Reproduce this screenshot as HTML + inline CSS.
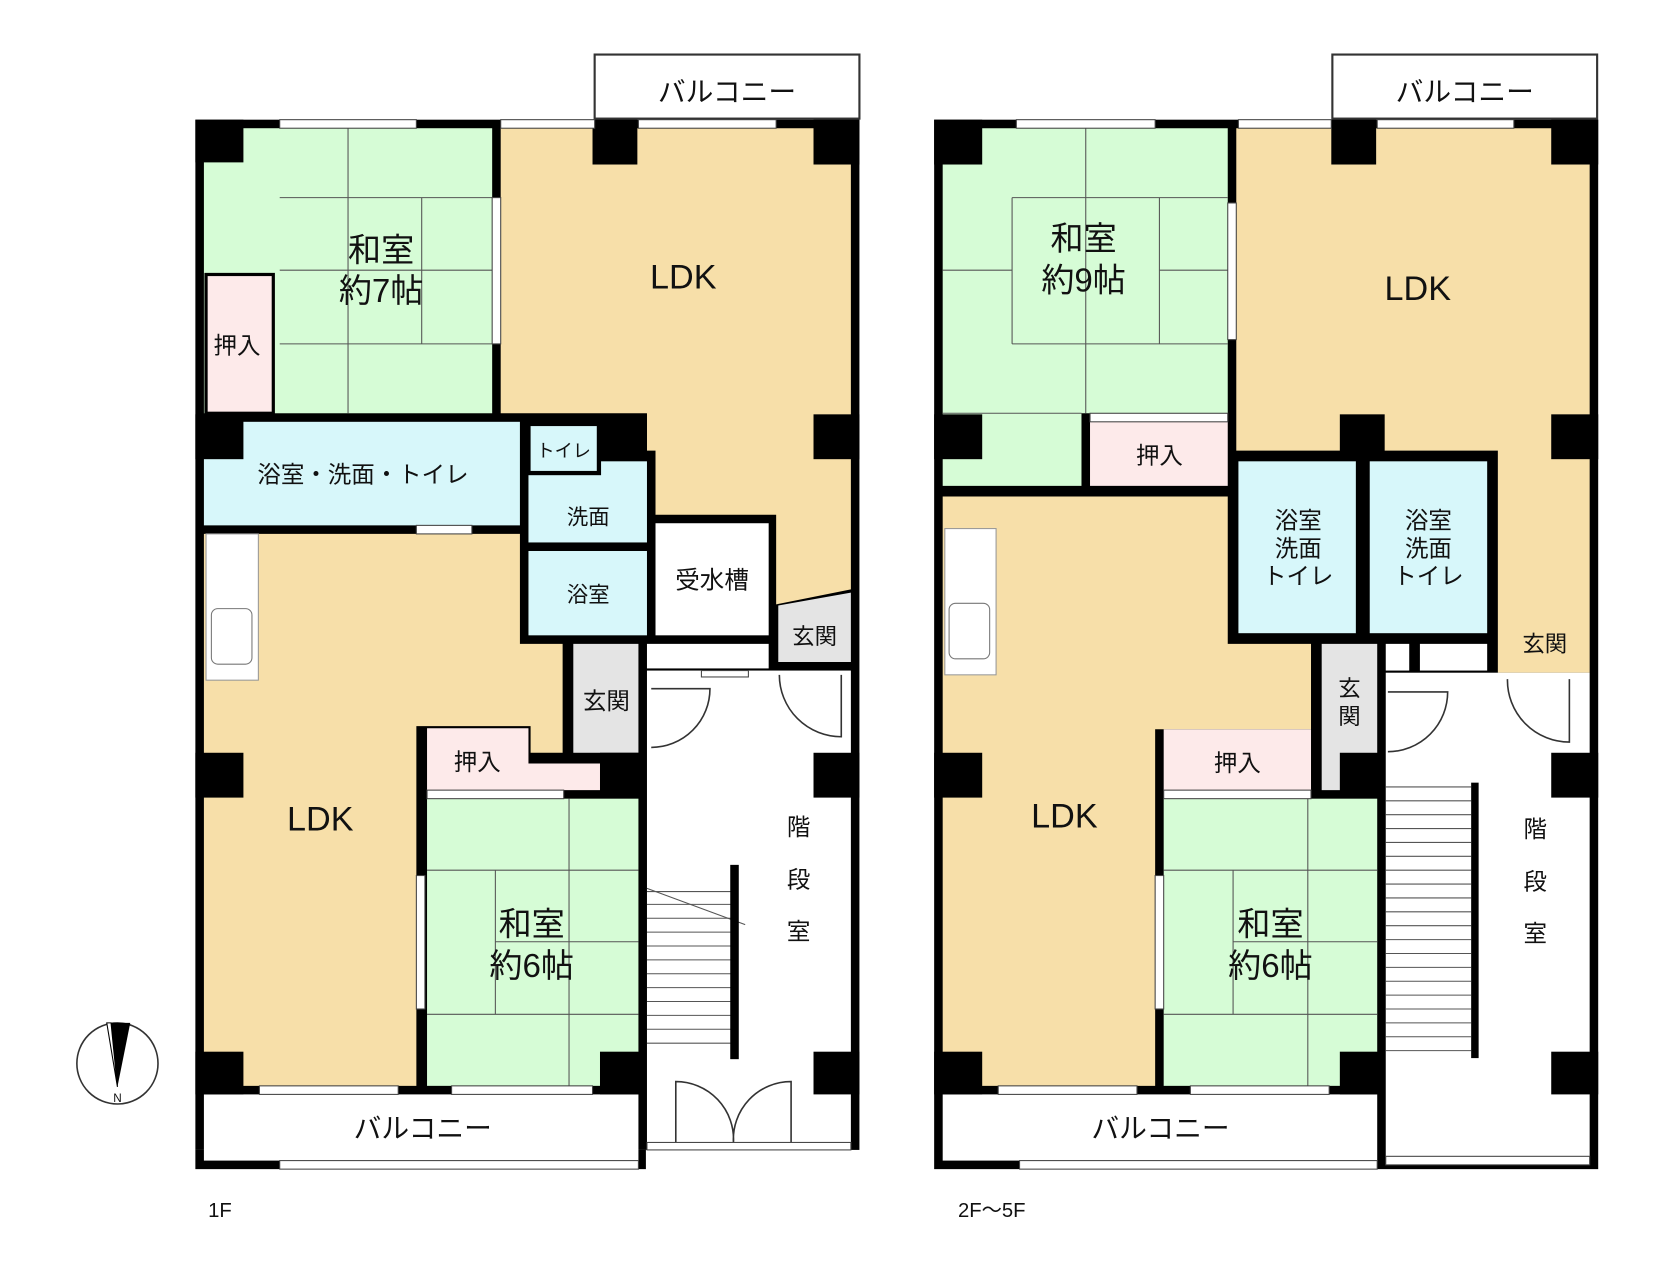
<!DOCTYPE html>
<html><head><meta charset="utf-8"><style>
html,body{margin:0;padding:0;background:#fff;}
svg{display:block}
text{font-family:"Liberation Sans","Noto Sans CJK JP",sans-serif;fill:#111;text-anchor:middle}
.g{fill:#d6fcd6}.t{fill:#f7dfa9}.c{fill:#d7f7fa}.p{fill:#fdeaea}.w{fill:#fff}.gr{fill:#e4e4e4}
.tl{stroke:#555;stroke-width:1;fill:none}
.win{fill:#fff;stroke:#444;stroke-width:1}
</style></head><body>
<svg width="1674" height="1276" viewBox="0 0 1568 1195" xmlns="http://www.w3.org/2000/svg">
<!-- ===== LEFT 1F ===== -->
<rect x="557" y="51" width="248" height="60" fill="#fff" stroke="#333" stroke-width="2"/>
<rect x="183" y="112" width="622" height="965" fill="#000"/>
<rect x="183" y="1077" width="422" height="18" fill="#000"/>
<rect class="g" x="191" y="120" width="270" height="267"/>
<path class="tl" d="M326,120V387M262,185H461M395,185V322M262,322H461M262,253H461"/>
<rect class="p" x="193" y="257" width="63" height="130" stroke="#000" stroke-width="3"/>
<polygon class="t" points="469,120 797,120 797,552 727,566 727,482 614,482 614,422 606,422 606,387 469,387"/>
<polygon class="t" points="191,500 487,500 487,603 527,603 527,705 497,705 497,680 390,680 390,1017 191,1017"/>
<rect class="c" x="191" y="395" width="296" height="97"/>
<rect class="c" x="495" y="432" width="111" height="76"/>
<rect class="c" x="495" y="397" width="66" height="46" stroke="#000" stroke-width="4"/>
<rect class="c" x="495" y="516" width="111" height="79"/>
<rect class="w" x="614" y="490" width="106" height="105"/>
<rect class="w" x="606" y="603" width="114" height="23"/>
<polygon class="gr" points="729,567 797,555 797,620 729,620"/>
<rect class="w" x="606" y="628" width="191" height="442"/>
<rect class="gr" x="537" y="603" width="61" height="102"/>
<polygon class="p" points="400,682 495,682 495,715 563,715 563,740 400,740"/>
<rect class="g" x="400" y="748" width="198" height="269"/>
<path class="tl" d="M533,748V1017M400,815H598M464,815V950M400,950H598M464,882H598"/>
<rect class="w" x="191" y="1025" width="407" height="62"/>
<rect x="193" y="500" width="49" height="137" fill="#fff" stroke="#999"/>
<rect x="198" y="570" width="38" height="52" rx="6" fill="#fff" stroke="#777"/>
<g stroke="#555" stroke-width="1">
<line x1="606" y1="835" x2="685" y2="835"/><line x1="606" y1="847" x2="685" y2="847"/><line x1="606" y1="860" x2="685" y2="860"/><line x1="606" y1="873" x2="685" y2="873"/><line x1="606" y1="886" x2="685" y2="886"/><line x1="606" y1="899" x2="685" y2="899"/><line x1="606" y1="912" x2="685" y2="912"/><line x1="606" y1="925" x2="685" y2="925"/><line x1="606" y1="938" x2="685" y2="938"/><line x1="606" y1="951" x2="685" y2="951"/><line x1="606" y1="964" x2="685" y2="964"/><line x1="606" y1="977" x2="685" y2="977"/>
<line x1="606" y1="832" x2="698" y2="866"/></g>
<rect x="684" y="810" width="8" height="182" fill="#000"/>
<path d="M610,645 H665 A55,55 0 0 1 610,700" fill="none" stroke="#333" stroke-width="1.5"/>
<path d="M788,632 V690 A58,58 0 0 1 730,632" fill="none" stroke="#333" stroke-width="1.5"/>
<path d="M633,1070 V1013 A54,54 0 0 1 687,1070 M741,1070 V1013 A54,54 0 0 0 687,1070" fill="none" stroke="#333" stroke-width="1.5"/>
<g fill="#000">
<rect x="183" y="112" width="45" height="40"/><rect x="555" y="112" width="42" height="42"/><rect x="762" y="112" width="43" height="42"/>
<rect x="183" y="388" width="45" height="42"/><rect x="762" y="388" width="43" height="42"/><rect x="565" y="388" width="41" height="34"/>
<rect x="183" y="705" width="45" height="42"/><rect x="762" y="705" width="43" height="42"/><rect x="562" y="705" width="43" height="42"/>
<rect x="183" y="985" width="45" height="40"/><rect x="562" y="985" width="43" height="40"/><rect x="762" y="985" width="43" height="40"/>
</g>
<rect class="win" x="262" y="112" width="128" height="8"/><rect class="win" x="469" y="112" width="88" height="8"/><rect class="win" x="598" y="112" width="129" height="8"/>
<rect class="win" x="243" y="1017" width="130" height="8"/><rect class="win" x="423" y="1017" width="132" height="8"/>
<rect class="win" x="461" y="185" width="8" height="137"/><rect class="win" x="390" y="820" width="8" height="125"/>
<rect class="win" x="262" y="1087" width="336" height="8"/><rect class="win" x="390" y="492" width="52" height="8"/>
<rect class="win" x="657" y="628" width="44" height="6"/><rect class="win" x="400" y="740" width="128" height="8"/><rect class="win" x="606" y="1070" width="191" height="7"/>
<text x="357" y="245" font-size="31">和室</text><text x="357" y="283" font-size="31">約7帖</text>
<text x="640" y="270" font-size="32">LDK</text>
<text x="222" y="331" font-size="22">押入</text>
<text x="340" y="452" font-size="22">浴室・洗面・トイレ</text>
<text x="528" y="428" font-size="17">トイレ</text>
<text x="551" y="491" font-size="20">洗面</text>
<text x="551" y="564" font-size="20">浴室</text>
<text x="667" y="551" font-size="23">受水槽</text>
<text x="763" y="603" font-size="21">玄関</text>
<text x="568" y="664" font-size="22">玄関</text>
<text x="447" y="721" font-size="22">押入</text>
<text x="300" y="778" font-size="32">LDK</text>
<text x="498" y="876" font-size="31">和室</text><text x="498" y="915" font-size="31">約6帖</text>
<text x="748" y="782" font-size="22">階</text><text x="748" y="831" font-size="22">段</text><text x="748" y="880" font-size="22">室</text>
<text x="396" y="1066" font-size="26">バルコニー</text>
<text x="681" y="95" font-size="26">バルコニー</text>
<text x="206" y="1140" font-size="19">1F</text>
<circle cx="110" cy="996" r="38" fill="#fff" stroke="#333" stroke-width="1.5"/>
<polygon points="100,958 122,958 110,1018" fill="#000"/>
<polygon points="100,958 110,1018 104,958" fill="#fff" stroke="#000"/>
<text x="110" y="1032" font-size="11" font-family="Liberation Serif">N</text>
<!-- ===== RIGHT 2F-5F ===== -->
<rect x="1248" y="51" width="248" height="60" fill="#fff" stroke="#333" stroke-width="2"/>
<rect x="875" y="112" width="622" height="983" fill="#000"/>
<polygon class="g" points="883,120 1150,120 1150,387 1013,387 1013,455 883,455"/>
<path class="tl" d="M1017,120V387M948,185H1150M948,185V322M1086,185V322M883,253H948M1086,253H1150M948,322H1150M883,387H1013"/>
<rect class="p" x="1021" y="395" width="129" height="60"/>
<polygon class="t" points="1158,120 1489,120 1489,630 1403,630 1403,422 1158,422"/>
<polygon class="t" points="883,465 1150,465 1150,603 1228,603 1228,683 1082,683 1082,1017 883,1017"/>
<rect class="c" x="1160" y="432" width="110" height="161"/>
<rect class="c" x="1283" y="432" width="110" height="161"/>
<rect class="w" x="1298" y="603" width="22" height="25"/><rect class="w" x="1330" y="603" width="63" height="25"/>
<rect class="gr" x="1238" y="603" width="52" height="137"/>
<rect class="p" x="1090" y="683" width="138" height="57"/>
<rect class="g" x="1090" y="748" width="200" height="269"/>
<path class="tl" d="M1225,748V1017M1090,815H1290M1155,815V950M1090,950H1290M1155,882H1290"/>
<rect class="w" x="883" y="1025" width="407" height="62"/>
<rect class="w" x="1298" y="630" width="191" height="457"/>
<rect x="885" y="495" width="48" height="137" fill="#fff" stroke="#999"/>
<rect x="889" y="565" width="38" height="52" rx="6" fill="#fff" stroke="#777"/>
<g stroke="#555" stroke-width="1">
<line x1="1298" y1="737" x2="1378" y2="737"/><line x1="1298" y1="750" x2="1378" y2="750"/><line x1="1298" y1="763" x2="1378" y2="763"/><line x1="1298" y1="776" x2="1378" y2="776"/><line x1="1298" y1="789" x2="1378" y2="789"/><line x1="1298" y1="802" x2="1378" y2="802"/><line x1="1298" y1="815" x2="1378" y2="815"/><line x1="1298" y1="828" x2="1378" y2="828"/><line x1="1298" y1="841" x2="1378" y2="841"/><line x1="1298" y1="854" x2="1378" y2="854"/><line x1="1298" y1="867" x2="1378" y2="867"/><line x1="1298" y1="880" x2="1378" y2="880"/><line x1="1298" y1="893" x2="1378" y2="893"/><line x1="1298" y1="906" x2="1378" y2="906"/><line x1="1298" y1="919" x2="1378" y2="919"/><line x1="1298" y1="932" x2="1378" y2="932"/><line x1="1298" y1="945" x2="1378" y2="945"/><line x1="1298" y1="958" x2="1378" y2="958"/><line x1="1298" y1="971" x2="1378" y2="971"/><line x1="1298" y1="984" x2="1378" y2="984"/></g>
<rect x="1378" y="733" width="7" height="258" fill="#000"/>
<path d="M1300,648 H1356 A56,56 0 0 1 1300,704" fill="none" stroke="#333" stroke-width="1.5"/>
<path d="M1470,636 V695 A58,58 0 0 1 1412,636" fill="none" stroke="#333" stroke-width="1.5"/>
<g fill="#000">
<rect x="875" y="112" width="45" height="42"/><rect x="1247" y="112" width="42" height="42"/><rect x="1453" y="112" width="44" height="42"/>
<rect x="875" y="388" width="45" height="42"/><rect x="1453" y="388" width="44" height="42"/><rect x="1255" y="388" width="42" height="42"/>
<rect x="875" y="705" width="45" height="42"/><rect x="1453" y="705" width="44" height="42"/><rect x="1255" y="705" width="42" height="42"/>
<rect x="875" y="985" width="45" height="40"/><rect x="1255" y="985" width="42" height="40"/><rect x="1453" y="985" width="44" height="40"/>
</g>
<rect class="win" x="952" y="112" width="130" height="8"/><rect class="win" x="1160" y="112" width="87" height="8"/><rect class="win" x="1290" y="112" width="128" height="8"/>
<rect class="win" x="935" y="1017" width="130" height="8"/><rect class="win" x="1115" y="1017" width="130" height="8"/>
<rect class="win" x="1150" y="190" width="8" height="128"/><rect class="win" x="1082" y="820" width="8" height="125"/>
<rect class="win" x="955" y="1087" width="335" height="8"/><rect class="win" x="1298" y="1083" width="191" height="8"/>
<rect class="win" x="1090" y="740" width="138" height="8"/><rect class="win" x="1021" y="387" width="129" height="8"/>
<text x="1015" y="234" font-size="31">和室</text><text x="1015" y="273" font-size="31">約9帖</text>
<text x="1328" y="281" font-size="32">LDK</text>
<text x="1086" y="434" font-size="22">押入</text>
<text x="1216" y="495" font-size="22">浴室</text><text x="1216" y="521" font-size="22">洗面</text><text x="1216" y="547" font-size="22">トイレ</text>
<text x="1338" y="495" font-size="22">浴室</text><text x="1338" y="521" font-size="22">洗面</text><text x="1338" y="547" font-size="22">トイレ</text>
<text x="1447" y="610" font-size="21">玄関</text>
<text x="1264" y="652" font-size="21">玄</text><text x="1264" y="678" font-size="21">関</text>
<text x="1159" y="722" font-size="22">押入</text>
<text x="997" y="775" font-size="32">LDK</text>
<text x="1190" y="876" font-size="31">和室</text><text x="1190" y="915" font-size="31">約6帖</text>
<text x="1438" y="784" font-size="22">階</text><text x="1438" y="833" font-size="22">段</text><text x="1438" y="882" font-size="22">室</text>
<text x="1087" y="1066" font-size="26">バルコニー</text>
<text x="1372" y="95" font-size="26">バルコニー</text>
<text x="929" y="1140" font-size="19">2F～5F</text>
</svg>
</body></html>
